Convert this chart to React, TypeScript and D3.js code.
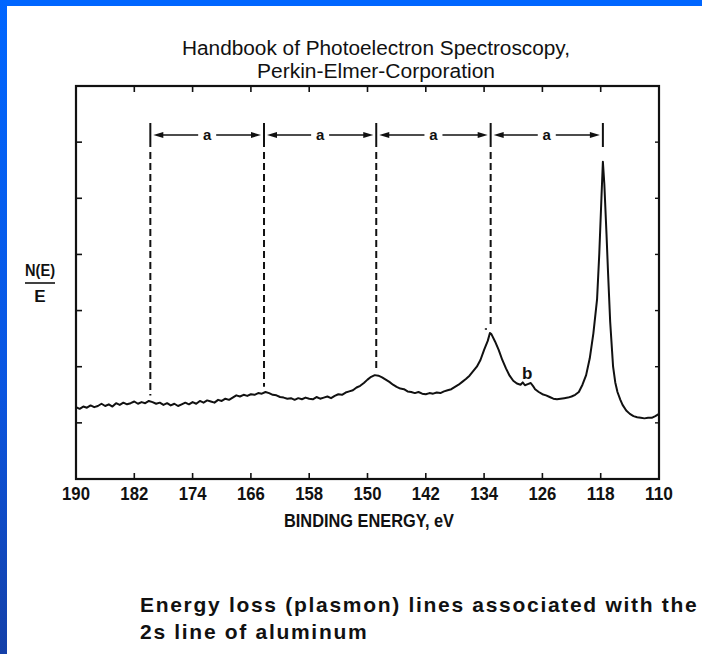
import React from "react";
import * as d3 from "d3";

// ---- data ----
const xTicks = [190, 182, 174, 166, 158, 150, 142, 134, 126, 118, 110];
const yTicks = [1, 2, 3, 4, 5, 6];
const plasmonEnergies = [179.8, 164.2, 148.8, 133.1, 117.7];
const spacingLabel = "a";
const titleLines = ["Handbook of Photoelectron Spectroscopy,", "Perkin-Elmer-Corporation"];
const captionLines = ["Energy loss (plasmon) lines associated with the", "2s line of aluminum"];
const xLabel = "BINDING ENERGY, eV";

// binding energy (eV), N(E)/E (arb. units)
const baseline: [number, number][] = [
  [190.0, 1.28], [189.5, 1.25], [189.0, 1.29], [188.5, 1.27], [188.0, 1.31], [187.5, 1.28],
  [187.0, 1.30], [186.5, 1.34], [186.0, 1.30], [185.5, 1.33], [185.0, 1.29], [184.5, 1.35],
  [184.0, 1.32], [183.5, 1.36], [183.0, 1.33], [182.5, 1.35], [182.0, 1.38], [181.5, 1.34],
  [181.0, 1.37], [180.5, 1.35], [180.0, 1.39], [179.5, 1.37], [179.0, 1.34], [178.5, 1.36],
  [178.0, 1.32], [177.5, 1.35], [177.0, 1.31], [176.5, 1.34], [176.0, 1.30], [175.5, 1.33],
  [175.0, 1.36], [174.5, 1.33], [174.0, 1.37], [173.5, 1.34], [173.0, 1.39], [172.5, 1.36],
  [172.0, 1.40], [171.5, 1.38], [171.0, 1.36], [170.5, 1.41], [170.0, 1.39], [169.5, 1.43],
  [169.0, 1.41], [168.5, 1.45], [168.0, 1.49], [167.5, 1.47], [167.0, 1.50], [166.5, 1.48],
  [166.0, 1.51], [165.5, 1.50], [165.0, 1.53], [164.5, 1.52], [164.0, 1.55], [163.5, 1.53],
  [163.0, 1.50], [162.5, 1.49], [162.0, 1.46], [161.5, 1.45], [161.0, 1.43], [160.5, 1.44],
  [160.0, 1.41], [159.5, 1.44], [159.0, 1.42], [158.5, 1.45], [158.0, 1.43], [157.5, 1.42],
  [157.0, 1.46], [156.5, 1.43], [156.0, 1.45], [155.5, 1.47], [155.0, 1.44], [154.5, 1.48],
  [154.0, 1.51], [153.5, 1.50], [153.0, 1.54], [152.5, 1.56], [152.0, 1.58],
];
const plasmonRegion: [number, number][] = [
  [151.5, 1.63], [151.0, 1.66], [150.5, 1.71], [150.0, 1.77], [149.5, 1.82], [149.0, 1.85],
  [148.5, 1.84], [148.0, 1.81], [147.5, 1.77], [147.0, 1.73], [146.5, 1.68], [146.0, 1.64],
  [145.5, 1.61], [145.0, 1.60], [144.5, 1.56], [144.0, 1.55], [143.5, 1.53], [143.0, 1.55],
  [142.5, 1.52], [142.0, 1.51], [141.5, 1.53], [141.0, 1.52], [140.5, 1.54], [140.0, 1.53],
  [139.5, 1.56], [139.0, 1.58], [138.5, 1.60], [138.0, 1.64], [137.5, 1.68], [137.0, 1.73],
  [136.5, 1.78], [136.0, 1.84], [135.5, 1.92], [135.0, 2.00], [134.5, 2.12], [134.0, 2.30],
  [133.5, 2.46], [133.2, 2.60], [133.0, 2.58], [132.5, 2.45], [132.0, 2.30], [131.5, 2.12],
  [131.0, 1.97], [130.5, 1.84], [130.0, 1.75], [129.5, 1.70], [129.0, 1.68], [128.7, 1.72],
  [128.4, 1.67], [128.0, 1.69], [127.6, 1.71], [127.2, 1.64], [127.0, 1.60], [126.5, 1.55],
  [126.0, 1.51], [125.5, 1.49], [125.0, 1.46], [124.5, 1.43], [124.0, 1.42], [123.5, 1.43],
  [123.0, 1.44], [122.5, 1.45], [122.0, 1.47], [121.5, 1.50], [121.0, 1.55],
];
const mainPeak: [number, number][] = [
  [120.5, 1.68], [120.0, 1.85], [119.5, 2.15], [119.0, 2.60], [118.5, 3.20], [118.2, 4.00],
  [117.9, 5.00], [117.7, 5.65], [117.5, 5.25], [117.2, 4.35], [117.0, 3.70], [116.7, 2.80],
  [116.3, 2.00], [116.0, 1.72], [115.7, 1.55], [115.3, 1.41], [115.0, 1.32], [114.5, 1.22],
  [114.0, 1.16], [113.5, 1.12], [113.0, 1.10], [112.5, 1.09], [112.0, 1.08], [111.5, 1.09],
  [111.0, 1.09], [110.5, 1.12], [110.0, 1.16],
];
const spectrum = [...baseline, ...plasmonRegion, ...mainPeak];

const W = 702;
const H = 654;
const M = { left: 76, right: 659, top: 86, bottom: 479 };
const sans = "'Liberation Sans', Arial, Helvetica, sans-serif";

export default function App() {
  const x = d3.scaleLinear().domain([190, 110]).range([M.left, M.right]);
  const y = d3.scaleLinear().domain([0, 7]).range([M.bottom, M.top]);
  const line = d3
    .line<[number, number]>()
    .x((d) => x(d[0]))
    .y((d) => y(d[1]))
    .curve(d3.curveLinear);

  const interp = (e: number) => {
    const xs = spectrum.map((d) => -d[0]);
    const i = d3.bisectLeft(xs, -e);
    const a = spectrum[Math.max(0, i - 1)];
    const b = spectrum[Math.min(spectrum.length - 1, i)];
    if (a[0] === b[0]) return a[1];
    const t = (a[0] - e) / (a[0] - b[0]);
    return a[1] + t * (b[1] - a[1]);
  };

  const markTop = 123;
  const markBot = 147;
  const arrowY = 135;
  const dashTop = 152;
  const tick = 6;

  return (
    <div style={{ position: "fixed", left: 0, top: 0, width: W, height: H, background: "#fff" }}>
      <svg width={W} height={H} style={{ display: "block" }}>
        <defs>
          <linearGradient id="leftBand" x1="0" y1="0" x2="0" y2="1">
            <stop offset="0" stopColor="#0066ff" />
            <stop offset="0.6" stopColor="#0a55e0" />
            <stop offset="1" stopColor="#1440a8" />
          </linearGradient>
        </defs>
        <rect x={0} y={0} width={W} height={H} fill="#ffffff" />
        <rect x={0} y={0} width={W} height={6} fill="#0066ff" />
        <rect x={0} y={0} width={7} height={H} fill="url(#leftBand)" />

        {/* title */}
        {titleLines.map((t, i) => (
          <text
            key={t}
            x={376}
            y={55 + i * 23}
            textAnchor="middle"
            fontFamily={sans}
            fontSize={20}
            textLength={i === 0 ? 388 : 238}
            lengthAdjust="spacingAndGlyphs"
            fill="#111"
          >
            {t}
          </text>
        ))}

        {/* frame */}
        <rect
          x={M.left}
          y={M.top}
          width={M.right - M.left}
          height={M.bottom - M.top}
          fill="none"
          stroke="#111"
          strokeWidth={2.2}
        />

        {/* x ticks (inward, top and bottom) */}
        {xTicks.slice(1, -1).map((t) => (
          <g key={"xt" + t}>
            <line x1={x(t)} x2={x(t)} y1={M.bottom} y2={M.bottom - tick} stroke="#111" strokeWidth={1.6} />
            <line x1={x(t)} x2={x(t)} y1={M.top} y2={M.top + tick} stroke="#111" strokeWidth={1.6} />
          </g>
        ))}
        {/* y ticks (inward, left and right) */}
        {yTicks.map((t) => (
          <g key={"yt" + t}>
            <line x1={M.left} x2={M.left + tick} y1={y(t)} y2={y(t)} stroke="#111" strokeWidth={1.6} />
            <line x1={M.right} x2={M.right - 4} y1={y(t)} y2={y(t)} stroke="#111" strokeWidth={1.4} />
          </g>
        ))}

        {/* x tick labels */}
        {xTicks.map((t) => (
          <text
            key={"xl" + t}
            x={x(t)}
            y={500}
            textAnchor="middle"
            fontFamily={sans}
            fontWeight="bold"
            fontSize={19}
            textLength={String(t).length * 9.3}
            lengthAdjust="spacingAndGlyphs"
            fill="#111"
          >
            {t}
          </text>
        ))}
        <text
          x={369}
          y={527}
          textAnchor="middle"
          fontFamily={sans}
          fontWeight="bold"
          fontSize={18}
          textLength={170}
          lengthAdjust="spacingAndGlyphs"
          fill="#111"
        >
          {xLabel}
        </text>

        {/* y label N(E)/E */}
        <text
          x={40}
          y={276}
          textAnchor="middle"
          fontFamily={sans}
          fontWeight="bold"
          fontSize={17}
          textLength={30}
          lengthAdjust="spacingAndGlyphs"
          fill="#111"
        >
          N(E)
        </text>
        <line x1={25} x2={55} y1={283} y2={283} stroke="#111" strokeWidth={1.6} />
        <text x={40} y={302} textAnchor="middle" fontFamily={sans} fontWeight="bold" fontSize={17} fill="#111">
          E
        </text>

        {/* plasmon markers */}
        {plasmonEnergies.map((e) => (
          <line key={"m" + e} x1={x(e)} x2={x(e)} y1={markTop} y2={markBot} stroke="#111" strokeWidth={2} />
        ))}
        {plasmonEnergies.slice(0, -1).map((e) => (
          <line
            key={"d" + e}
            x1={x(e)}
            x2={x(e)}
            y1={dashTop}
            y2={y(interp(e)) - 6}
            stroke="#111"
            strokeWidth={2}
            strokeDasharray="7,4"
          />
        ))}
        {plasmonEnergies.slice(0, -1).map((e, i) => {
          const xl = x(e) + 3;
          const xr = x(plasmonEnergies[i + 1]) - 3;
          const mid = (xl + xr) / 2;
          return (
            <g key={"arr" + e}>
              <polygon points={`${xl},${arrowY} ${xl + 10},${arrowY - 3} ${xl + 10},${arrowY + 3}`} fill="#111" />
              <polygon points={`${xr},${arrowY} ${xr - 10},${arrowY - 3} ${xr - 10},${arrowY + 3}`} fill="#111" />
              <line x1={xl + 8} x2={mid - 9} y1={arrowY} y2={arrowY} stroke="#111" strokeWidth={1.5} />
              <line x1={mid + 9} x2={xr - 8} y1={arrowY} y2={arrowY} stroke="#111" strokeWidth={1.5} />
              <text
                x={mid}
                y={arrowY + 5}
                textAnchor="middle"
                fontFamily={sans}
                fontWeight="bold"
                fontSize={15}
                fill="#111"
              >
                {spacingLabel}
              </text>
            </g>
          );
        })}

        {/* spectrum */}
        <path d={line(spectrum) || ""} fill="none" stroke="#111" strokeWidth={2} strokeLinejoin="round" />

        {/* small annotations */}
        <line x1={x(133.9)} x2={x(133.6)} y1={329} y2={329} stroke="#111" strokeWidth={1.5} />
        <text x={x(128.1)} y={379} textAnchor="middle" fontFamily={sans} fontWeight="bold" fontSize={17} fill="#111">
          b
        </text>

        {/* caption */}
        {captionLines.map((t, i) => (
          <text
            key={t}
            x={140}
            y={612 + i * 27}
            fontFamily={sans}
            fontWeight="bold"
            fontSize={21}
            letterSpacing={1.7}
            fill="#111"
          >
            {t}
          </text>
        ))}
      </svg>
    </div>
  );
}
